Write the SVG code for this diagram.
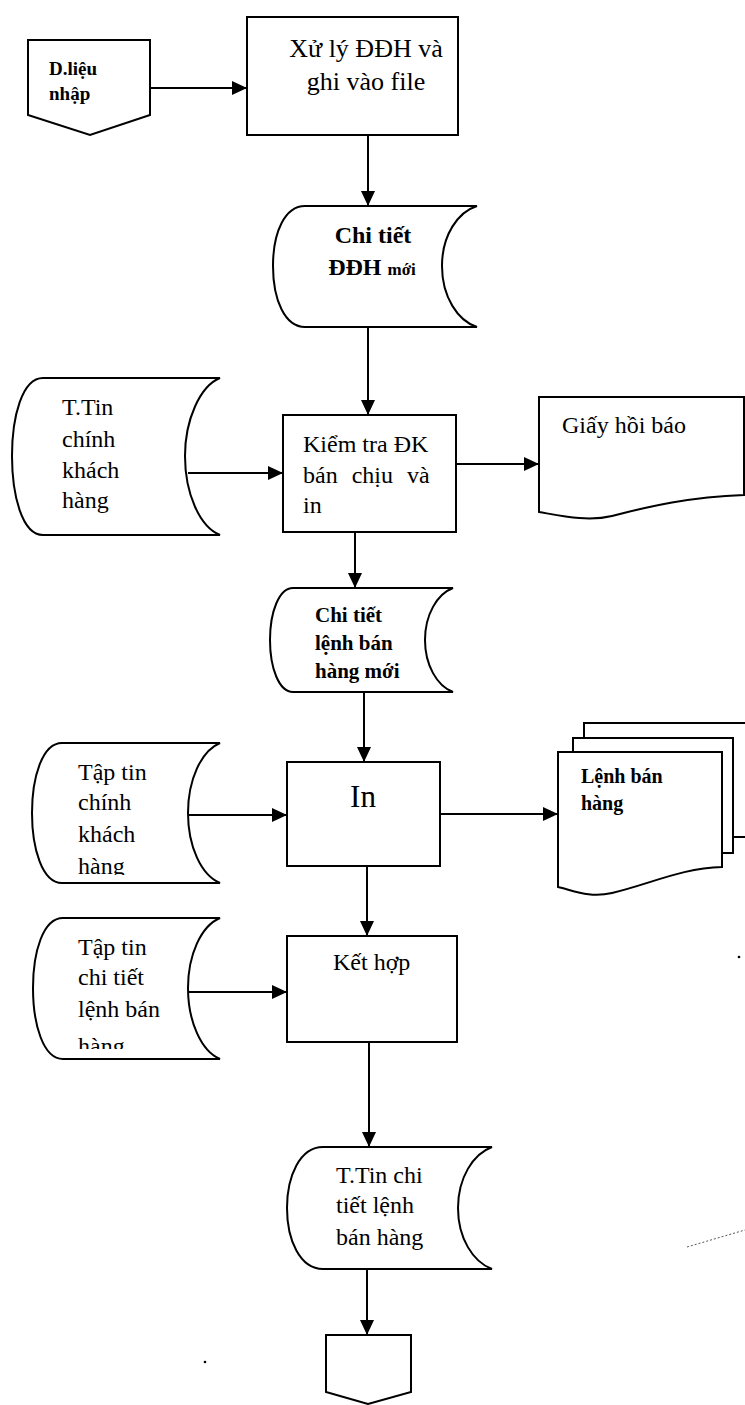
<svg xmlns="http://www.w3.org/2000/svg" width="745" height="1405" viewBox="0 0 745 1405">
<style>
.sh{fill:#fff;stroke:#000;stroke-width:2;stroke-linejoin:miter}
.cn{fill:none;stroke:#000;stroke-width:2}
.t{font-family:"Liberation Serif","Times New Roman",serif;fill:#000}
.b{font-weight:bold}
.s24{font-size:24px}
</style>
<defs>
<marker id="ah" markerUnits="userSpaceOnUse" markerWidth="16" markerHeight="14" refX="15" refY="7" orient="auto">
<path d="M0,0 L15,7 L0,14 Z" fill="#000"/>
</marker>
<clipPath id="c4"><rect x="0" y="700" width="300" height="175"/></clipPath>
<clipPath id="c5"><rect x="0" y="900" width="300" height="149"/></clipPath>
</defs>

<g id="connectors">
<line class="cn" x1="150" y1="88" x2="247" y2="88" marker-end="url(#ah)"/>
<line class="cn" x1="368" y1="135" x2="368" y2="206" marker-end="url(#ah)"/>
<line class="cn" x1="368" y1="327" x2="368" y2="415" marker-end="url(#ah)"/>
<line class="cn" x1="188" y1="473" x2="283" y2="473" marker-end="url(#ah)"/>
<line class="cn" x1="456" y1="464" x2="539" y2="464" marker-end="url(#ah)"/>
<line class="cn" x1="355" y1="532" x2="355" y2="588" marker-end="url(#ah)"/>
<line class="cn" x1="364" y1="692" x2="364" y2="762" marker-end="url(#ah)"/>
<line class="cn" x1="188" y1="815" x2="287" y2="815" marker-end="url(#ah)"/>
<line class="cn" x1="440" y1="814" x2="558" y2="814" marker-end="url(#ah)"/>
<line class="cn" x1="367" y1="866" x2="367" y2="936" marker-end="url(#ah)"/>
<line class="cn" x1="188" y1="992" x2="287" y2="992" marker-end="url(#ah)"/>
<line class="cn" x1="369" y1="1042" x2="369" y2="1147" marker-end="url(#ah)"/>
<line class="cn" x1="367" y1="1269" x2="367" y2="1335" marker-end="url(#ah)"/>
</g>

<g id="n-dlieu-nhap">
<path class="sh" d="M28,40 H150 V115 L90,135 L28,115 Z"/>
<text class="t b" x="49" y="75" style="font-size:19px">D.liệu</text>
<text class="t b" x="49" y="100" style="font-size:19px">nhập</text>
</g>

<g id="n-xuly">
<rect class="sh" x="247" y="17" width="211" height="118"/>
<text class="t" x="366" y="57" style="font-size:26px" text-anchor="middle">Xử lý ĐĐH và</text>
<text class="t" x="366" y="90" style="font-size:26px" text-anchor="middle">ghi vào file</text>
</g>

<g id="n-chitiet-ddh">
<path class="sh" d="M305,206 H477 C458,212 442,235 442,266 C442,297 458,321 477,327 H305 C285,327 273,300 273,266 C273,232 285,206 305,206 Z"/>
<text class="t b s24" x="373" y="243" text-anchor="middle">Chi tiết</text>
<text class="t b s24" x="372" y="275" text-anchor="middle">ĐĐH <tspan style="font-size:17px">mới</tspan></text>
</g>

<g id="n-ttin-chinh">
<path class="sh" d="M43,378 H220 C200,386 185,420 185,456 C185,494 200,527 220,535 H43 C22,535 12,495 12,456 C12,417 22,378 43,378 Z"/>
<text class="t s24" x="62" y="415">T.Tin</text>
<text class="t s24" x="62" y="447">chính</text>
<text class="t s24" x="62" y="478">khách</text>
<text class="t s24" x="62" y="508">hàng</text>
</g>

<g id="n-kiemtra">
<rect class="sh" x="283" y="415" width="173" height="117"/>
<text class="t s24" x="303" y="452">Kiểm tra ĐK</text>
<text class="t s24" x="303" y="483" style="word-spacing:8px">bán chịu và</text>
<text class="t s24" x="303" y="513">in</text>
</g>

<g id="n-giay-hoi-bao">
<path class="sh" d="M539,397 H744 V495 C690,497 650,506 612,516 C588,522 562,516 539,512 Z"/>
<text class="t s24" x="562" y="433">Giấy hồi báo</text>
</g>

<g id="n-chitiet-lenh">
<path class="sh" d="M293,588 H453 C437,594 425,615 425,640 C425,665 437,686 453,692 H293 C279,692 270,668 270,640 C270,612 279,588 293,588 Z"/>
<text class="t b" x="315" y="622" style="font-size:21px">Chi tiết</text>
<text class="t b" x="315" y="650" style="font-size:21px">lệnh bán</text>
<text class="t b" x="315" y="678" style="font-size:21px">hàng mới</text>
</g>

<g id="n-in">
<rect class="sh" x="287" y="762" width="153" height="104"/>
<text class="t" x="363" y="807" style="font-size:31px" text-anchor="middle">In</text>
</g>

<g id="n-taptin-chinh">
<path class="sh" d="M62,743 H220 C201,751 188,780 188,813 C188,846 201,875 220,883 H62 C42,883 32,848 32,813 C32,778 42,743 62,743 Z"/>
<g clip-path="url(#c4)">
<text class="t s24" x="78" y="780">Tập tin</text>
<text class="t s24" x="78" y="810">chính</text>
<text class="t s24" x="78" y="842">khách</text>
<text class="t s24" x="78" y="874">hàng</text>
</g>
</g>

<g id="n-lenh-ban-hang">
<path class="cn" d="M584,738 V723 H746"/>
<line class="cn" x1="733" y1="837" x2="746" y2="837"/>
<path class="sh" d="M573,752 V738 H733 V853 H722"/>
<path class="sh" d="M558,752 H722 V867 C682,868 650,884 612,893 C590,898 575,891 558,887 Z"/>
<text class="t b" x="581" y="783" style="font-size:20px">Lệnh bán</text>
<text class="t b" x="581" y="810" style="font-size:20px">hàng</text>
</g>

<g id="n-taptin-chitiet">
<path class="sh" d="M63,918 H220 C201,926 188,955 188,988 C188,1021 201,1051 220,1059 H63 C43,1059 33,1024 33,988 C33,952 43,918 63,918 Z"/>
<g clip-path="url(#c5)">
<text class="t s24" x="78" y="955">Tập tin</text>
<text class="t s24" x="78" y="985">chi tiết</text>
<text class="t s24" x="78" y="1017">lệnh bán</text>
<text class="t s24" x="78" y="1054">hàng</text>
</g>
</g>

<g id="n-kethop">
<rect class="sh" x="287" y="936" width="170" height="106"/>
<text class="t s24" x="333" y="970">Kết hợp</text>
</g>

<g id="n-ttin-chitiet">
<path class="sh" d="M323,1147 H492 C473,1154 458,1178 458,1208 C458,1238 473,1262 492,1269 H323 C300,1269 287,1240 287,1208 C287,1176 300,1147 323,1147 Z"/>
<text class="t s24" x="336" y="1183">T.Tin chi</text>
<text class="t s24" x="336" y="1213">tiết lệnh</text>
<text class="t s24" x="336" y="1245">bán hàng</text>
</g>

<g id="n-offpage-bottom">
<path class="sh" d="M326,1335 H411 V1392 L368,1404 L326,1392 Z"/>
</g>

<g id="marks">
<line x1="687" y1="1247" x2="745" y2="1230" stroke="#555" stroke-width="1" stroke-dasharray="2 2"/>
<circle cx="739" cy="957" r="1.3" fill="#000"/>
<circle cx="205" cy="1362" r="1.3" fill="#000"/>
</g>
</svg>
